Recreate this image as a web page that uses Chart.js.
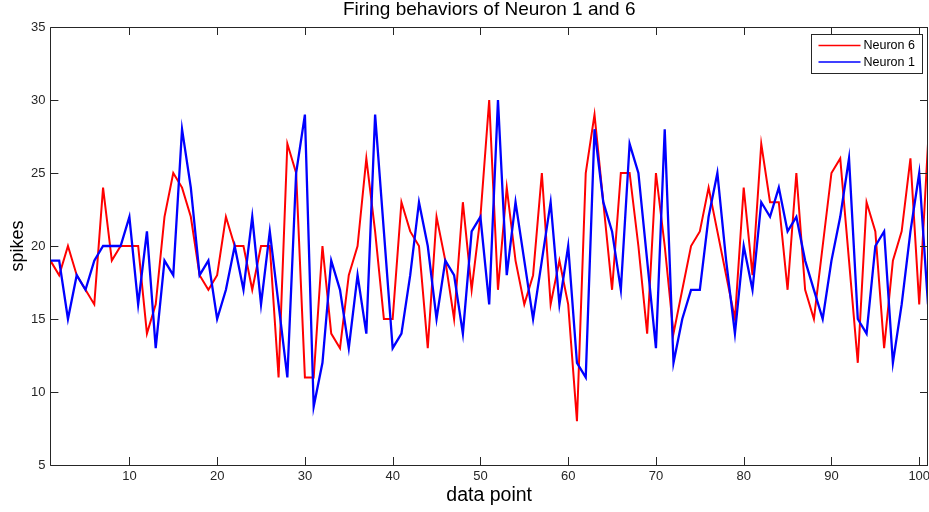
<!DOCTYPE html>
<html>
<head>
<meta charset="utf-8">
<script src="https://cdn.jsdelivr.net/npm/chart.js@4.4.1/dist/chart.umd.min.js"></script>
<style>
  html, body { margin: 0; padding: 0; background: #ffffff; }
  #wrap { width: 929px; height: 512px; position: relative; }
</style>
</head>
<body>
<div id="wrap"><canvas id="chart"></canvas></div>
<script>
// Sample index (x axis)
const dataPoint = [
  1, 2, 3, 4, 5, 6, 7, 8, 9, 10,
  11, 12, 13, 14, 15, 16, 17, 18, 19, 20,
  21, 22, 23, 24, 25, 26, 27, 28, 29, 30,
  31, 32, 33, 34, 35, 36, 37, 38, 39, 40,
  41, 42, 43, 44, 45, 46, 47, 48, 49, 50,
  51, 52, 53, 54, 55, 56, 57, 58, 59, 60,
  61, 62, 63, 64, 65, 66, 67, 68, 69, 70,
  71, 72, 73, 74, 75, 76, 77, 78, 79, 80,
  81, 82, 83, 84, 85, 86, 87, 88, 89, 90,
  91, 92, 93, 94, 95, 96, 97, 98, 99, 100,
  101
];

// Spike counts per sample
const neuron6 = [
  19, 18, 20, 18, 17, 16, 24, 19, 20, 20,
  20, 14, 16, 22, 25, 24, 22, 18, 17, 18,
  22, 20, 20, 17, 20, 20, 11, 27, 25, 11,
  11, 20, 14, 13, 18, 20, 26, 21, 15, 15,
  23, 21, 20, 13, 22, 19, 15, 23, 17, 22,
  30, 17, 24, 19, 16, 18, 25, 16, 19, 16,
  8, 25, 29, 23, 17, 25, 25, 20, 14, 25,
  20, 14, 17, 20, 21, 24, 21, 18, 15, 24,
  18, 27, 23, 23, 17, 25, 17, 15, 20, 25,
  26, 19, 12, 23, 21, 13, 19, 21, 26, 16,
  27
];

const neuron1 = [
  19, 19, 15, 18, 17, 19, 20, 20, 20, 22,
  16, 21, 13, 19, 18, 28, 24, 18, 19, 15,
  17, 20, 17, 22, 16, 21, 16, 11, 25, 29,
  9, 12, 19, 17, 13, 18, 14, 29, 21, 13,
  14, 18, 23, 20, 15, 19, 18, 14, 21, 22,
  16, 30, 18, 23, 19, 15, 19, 23, 16, 20,
  12, 11, 28, 23, 21, 17, 27, 25, 19, 13,
  28, 12, 15, 17, 17, 22, 25, 19, 14, 20,
  17, 23, 22, 24, 21, 22, 19, 17, 15, 19,
  22, 26, 15, 14, 20, 21, 12, 16, 21, 25,
  16
];

const xTicks = [10, 20, 30, 40, 50, 60, 70, 80, 90, 100];
const yTicks = [5, 10, 15, 20, 25, 30, 35];

const titleText = 'Firing behaviors of Neuron 1 and 6';
const xLabel = 'data point';
const yLabel = 'spikes';

const FONT = "'Liberation Sans', Arial, Helvetica, sans-serif";
const AXIS_COLOR = '#262626';

function toPoints(xs, ys) {
  return xs.map((x, i) => ({ x: x, y: ys[i] }));
}

// Box axes with inward tick marks, title and an inset legend
const boxAxes = {
  id: 'boxAxes',
  afterDatasetsDraw(chart) {
    const { ctx, chartArea: a, scales } = chart;
    const tickLen = 8;
    ctx.save();
    ctx.strokeStyle = AXIS_COLOR;
    ctx.lineWidth = 1;
    ctx.beginPath();
    ctx.rect(Math.round(a.left) + 0.5, Math.round(a.top) + 0.5,
             Math.round(a.right - a.left) - 1, Math.round(a.bottom - a.top));
    ctx.stroke();

    ctx.beginPath();
    xTicks.forEach(v => {
      const px = Math.round(scales.x.getPixelForValue(v)) + 0.5;
      ctx.moveTo(px, a.bottom); ctx.lineTo(px, a.bottom - tickLen);
      ctx.moveTo(px, a.top); ctx.lineTo(px, a.top + tickLen);
    });
    yTicks.forEach(v => {
      const py = Math.round(scales.y.getPixelForValue(v)) + 0.5;
      ctx.moveTo(a.left, py); ctx.lineTo(a.left + tickLen, py);
      ctx.moveTo(a.right, py); ctx.lineTo(a.right - tickLen, py);
    });
    ctx.stroke();

    // title
    ctx.fillStyle = '#000000';
    ctx.font = '19px ' + FONT;
    ctx.textAlign = 'center';
    ctx.textBaseline = 'middle';
    ctx.fillText(titleText, (a.left + a.right) / 2, 10);

    // legend
    const lw = 111, lh = 39;
    const lx = Math.round(a.right - 6 - lw) + 0.5;
    const ly = Math.round(a.top + 6.5) + 0.5;
    ctx.fillStyle = '#ffffff';
    ctx.fillRect(lx, ly, lw, lh);
    ctx.strokeStyle = AXIS_COLOR;
    ctx.strokeRect(lx, ly, lw, lh);
    ctx.font = '12.5px ' + FONT;
    ctx.textAlign = 'left';
    chart.data.datasets.forEach((ds, i) => {
      const yy = ly + 11 + i * 16.5;
      ctx.strokeStyle = ds.borderColor;
      ctx.lineWidth = 1.5;
      ctx.beginPath();
      ctx.moveTo(lx + 7, yy); ctx.lineTo(lx + 49, yy);
      ctx.stroke();
      ctx.fillStyle = '#000000';
      ctx.fillText(ds.label, lx + 52, yy + 0.5);
    });
    ctx.restore();
  }
};

new Chart(document.getElementById('chart'), {
  type: 'line',
  data: {
    datasets: [
      {
        label: 'Neuron 6',
        data: toPoints(dataPoint, neuron6),
        borderColor: '#ff0000',
        borderWidth: 2,
        pointRadius: 0,
        tension: 0,
        order: 1
      },
      {
        label: 'Neuron 1',
        data: toPoints(dataPoint, neuron1),
        borderColor: '#0000ff',
        borderWidth: 2.3,
        pointRadius: 0,
        tension: 0,
        order: 0
      }
    ]
  },
  options: {
    responsive: true,
    maintainAspectRatio: false,
    animation: false,
    events: [],
    layout: { padding: { top: 27, right: 1, left: 0, bottom: 0 } },
    plugins: {
      legend: { display: false },
      title: { display: false },
      tooltip: { enabled: false }
    },
    scales: {
      x: {
        type: 'linear',
        min: 1,
        max: 101,
        afterBuildTicks: s => { s.ticks = xTicks.map(v => ({ value: v })); },
        afterFit: s => { s.height = 47; s.paddingLeft = 0; s.paddingRight = 0; },
        grid: { display: false, drawTicks: false },
        border: { display: false },
        ticks: {
          padding: 4,
          color: AXIS_COLOR,
          font: { family: FONT, size: 13 },
          maxRotation: 0,
          autoSkip: false
        },
        title: {
          display: true,
          text: xLabel,
          color: '#000000',
          font: { family: FONT, size: 19.5 },
          padding: { top: 0, bottom: 5 }
        }
      },
      y: {
        min: 5,
        max: 35,
        afterBuildTicks: s => { s.ticks = yTicks.map(v => ({ value: v })); },
        afterFit: s => { s.width = 50.4; s.paddingTop = 0; s.paddingBottom = 0; },
        grid: { display: false, drawTicks: false },
        border: { display: false },
        ticks: {
          padding: 5,
          color: AXIS_COLOR,
          font: { family: FONT, size: 13 }
        },
        title: {
          display: true,
          text: yLabel,
          color: '#000000',
          font: { family: FONT, size: 18 },
          padding: { top: 7, bottom: 0 }
        }
      }
    }
  },
  plugins: [boxAxes]
});
</script>
</body>
</html>
